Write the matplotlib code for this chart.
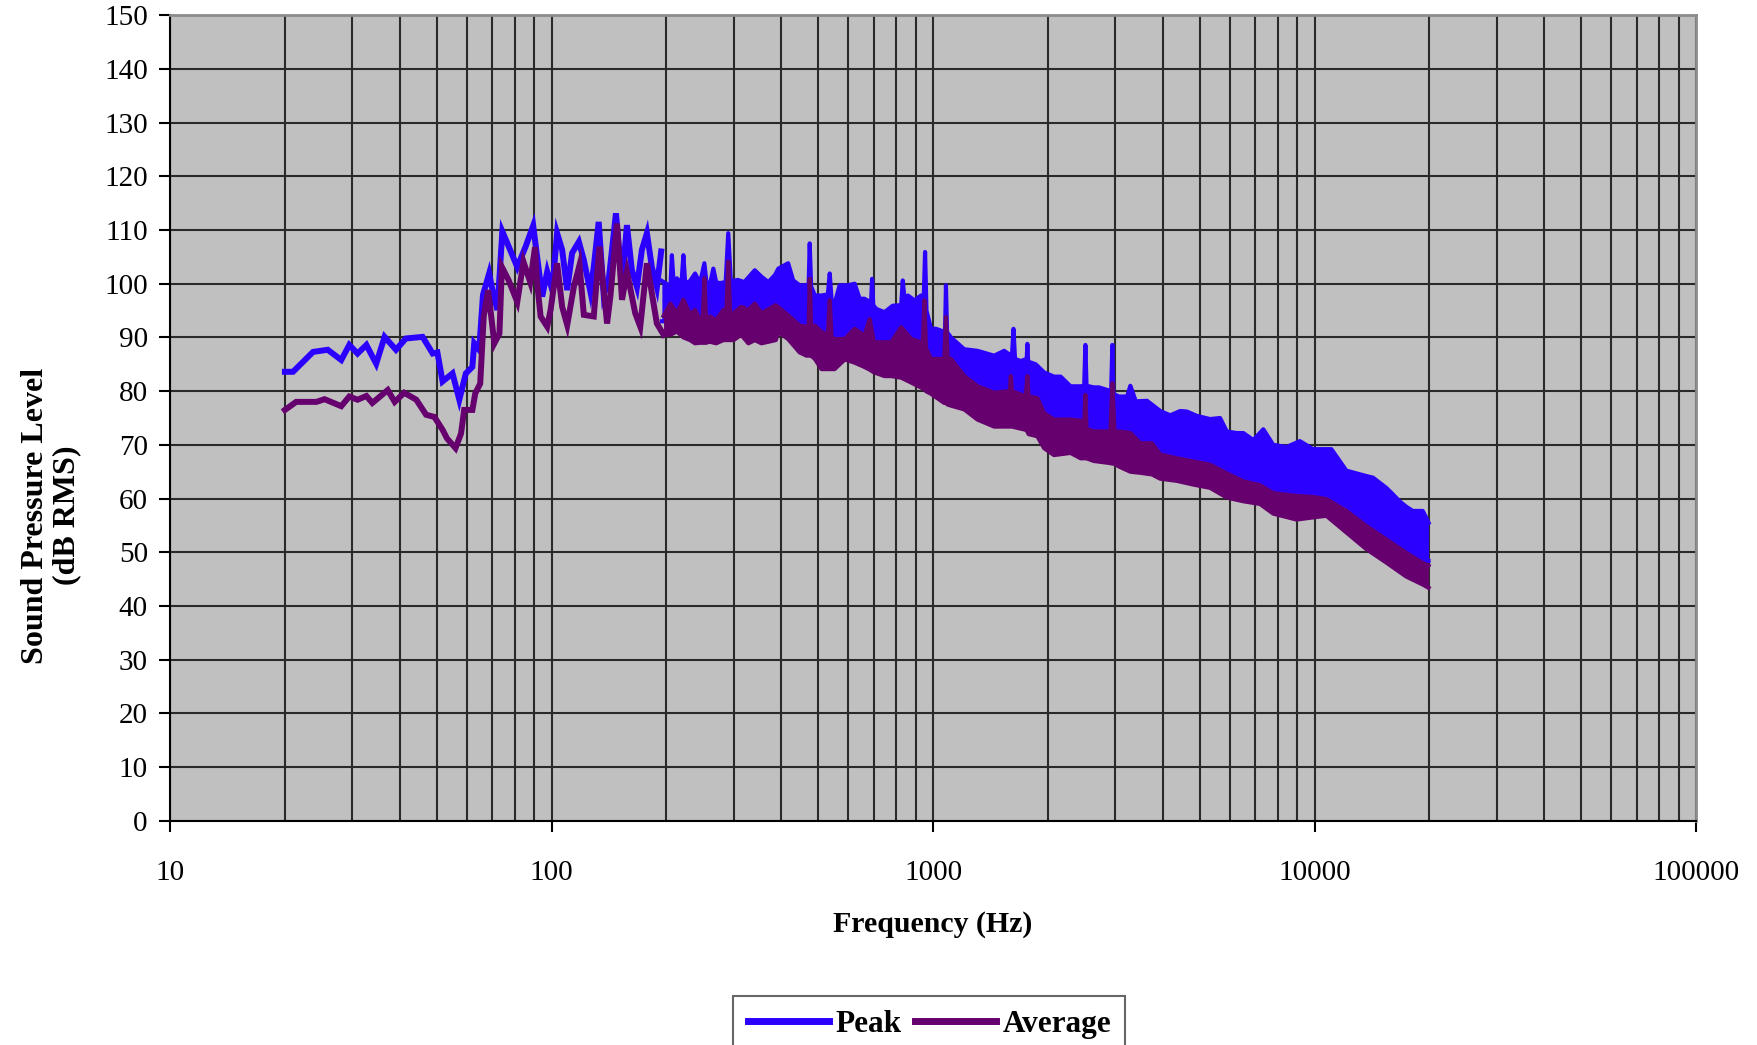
import numpy as np
import matplotlib
matplotlib.use('Agg')
import matplotlib.pyplot as plt
from matplotlib.ticker import FixedLocator, NullFormatter, LogLocator

plt.rcParams['font.family'] = ['Liberation Serif', 'DejaVu Serif']

# --- low frequency part, drawn as a plain line (Hz, dB) ---
peak_f_line = [20, 21, 23.7, 25.9, 28.1, 29.5, 31.0, 32.7, 34.7, 36.5,
               39.1, 41.5, 45.9, 48.8, 50.2, 51.8, 55.0, 57.3, 59.6, 62.0,
               62.7, 64.6, 66.1, 68.6, 70.0, 72.1, 74.3, 76.6, 81.3, 85.5,
               89.5, 94.5, 97.4, 100.4, 103.4, 106.6, 109.9, 113.2, 117.9, 121.5,
               126.4, 129, 132.9, 137, 141.2, 147.5, 153, 157.6, 162.4, 167.4,
               172.5, 177.8, 183.2, 188.8, 193.8]
peak_db_line = [83.6, 83.6, 87.3, 87.7, 85.8, 88.6, 87.0, 88.6, 85.1, 90.1,
                87.7, 89.8, 90.1, 87.0, 87.2, 81.8, 83.3, 78.4, 83.3, 84.5,
                88.9, 87.7, 97.9, 101.9, 98.8, 95.1, 109.7, 107.5, 103.1, 106.9,
                110.8, 97.6, 102.2, 98.8, 109.4, 106.3, 98.8, 105.7, 107.8, 104.4,
                98.5, 103.1, 111.5, 97.9, 100.7, 113.1, 100.1, 110.9, 102.5, 99.4,
                106.3, 109.4, 103.1, 99.4, 106.0]

avg_f_line = [20, 21.4, 24.2, 25.4, 28.1, 29.5, 31.0, 32.7, 33.9, 37.2,
              38.8, 41.1, 44.2, 46.9, 49.3, 51.8, 53.2, 56.0, 57.9, 59.0,
              62.0, 63.1, 65.0, 66.4, 68.2, 70.8, 73.0, 74.1, 77.1, 81.3,
              84.4, 87.9, 90.5, 91.5, 93.6, 97.4, 99.4, 103.4, 106.6, 109.9,
              114.4, 118.4, 121.5, 129, 133.5, 139.8, 142.6, 148.4, 153, 157.6,
              165.7, 170.8, 177.8, 188.8, 196.6]
avg_db_line = [76.5, 78.0, 78.0, 78.5, 77.2, 79.0, 78.4, 79.1, 77.8, 80.2,
               78.0, 79.7, 78.4, 75.6, 75.2, 72.8, 71.2, 69.4, 72.1, 76.5,
               76.5, 79.6, 81.4, 93.9, 98.8, 88.9, 90.7, 103.1, 100.7, 96.6,
               104.1, 100.3, 106.8, 100.7, 93.9, 92.0, 95.1, 103.8, 95.7, 92.3,
               99.4, 103.5, 94.2, 93.9, 106.9, 92.6, 97.6, 111.2, 97.0, 102.2,
               94.5, 92.0, 103.8, 92.6, 90.5]

# --- dense part, read as upper / lower envelope of the trace ---
peak_band_f = [194.6, 200, 205, 206.7, 209, 213, 219, 221.6, 224, 230.7,
               237.8, 245, 251.5, 255, 260, 265.5, 270, 276, 286, 290.5,
               295, 308, 320, 341, 355, 370, 385, 393, 417, 430,
               447, 466, 472, 475, 479, 490, 510, 530, 536, 542,
               552, 569, 598, 623, 642, 661, 688, 692, 697, 710,
               746, 784, 825, 833, 842, 859, 894, 930, 945, 953,
               961, 988, 1018, 1075, 1081, 1088, 1114, 1207, 1308, 1446,
               1536, 1610, 1625, 1640, 1697, 1760, 1767, 1775, 1858, 1954,
               2075, 2160, 2293, 2436, 2490, 2508, 2525, 2639, 2720, 2930,
               2951, 2970, 3067, 3225, 3290, 3400, 3638, 3941, 4185, 4446,
               4628, 4914, 5324, 5654, 5886, 6250, 6508, 6911, 7339, 7793,
               8445, 9151, 9916, 11071, 12118, 13668, 14229, 15416, 15887, 16702,
               17385, 18097, 19216, 19605, 19900]
peak_band_hi = [100.5, 100.0, 99.5, 105.3, 100, 101, 100, 105.3, 100, 100.5,
                101.9, 100.1, 103.8, 100, 99.8, 102.8, 100.3, 100.1, 100.3, 109.4,
                100.5, 100.7, 100.3, 102.5, 101.3, 100.3, 101.6, 102.8, 103.8, 100.6,
                99.7, 99.7, 100.0, 107.5, 99.5, 97.8, 97.8, 98, 101.9, 97,
                96.3, 99.7, 99.7, 100.0, 97.2, 97.2, 96.5, 100.9, 96, 95.3,
                94.7, 95.9, 96, 100.6, 97, 97.8, 96.9, 97.8, 97, 105.9,
                95, 91.6, 91.6, 91, 99.7, 91, 90.0, 87.8, 87.5, 86.6,
                87.5, 86.5, 91.6, 86, 85.6, 86, 88.8, 85.5, 85.0, 83.5,
                82.7, 82.7, 80.9, 80.9, 81, 88.6, 81, 80.7, 80.7, 80,
                88.6, 79.5, 79.0, 79.0, 81.0, 78.1, 78.2, 76.3, 75.5, 76.3,
                76.2, 75.4, 74.8, 75.0, 72.5, 72.2, 72.2, 70.9, 72.9, 70.0,
                69.6, 70.7, 69.2, 69.2, 65.2, 64.2, 63.9, 62, 61.1, 59.5,
                58.5, 57.7, 57.7, 56.5, 55.5]
peak_band_lo = [93, 93, 93, 93, 93, 93, 93, 93, 93, 93,
                93, 93, 93, 93, 93, 93, 93, 93, 93, 93,
                93, 93, 93, 93, 93, 93, 93, 93, 91, 90,
                89, 88.5, 88.5, 88.5, 88.5, 88, 88, 88, 88, 88,
                88, 88, 88, 88, 88, 88, 87.5, 87.5, 87.5, 87.5,
                87.5, 87.5, 87.5, 87.5, 87.5, 87.5, 87.5, 87, 87, 87,
                86.5, 85, 85, 84.5, 84.5, 84.5, 84, 81.5, 79.5, 78.5,
                78.5, 78, 78, 78, 78, 77.5, 77.5, 77.5, 76.5, 74.5,
                73.5, 73.3, 73.3, 73, 72.5, 72.5, 72.5, 71.5, 71.3, 71,
                71, 71, 71, 70.8, 70.8, 69.5, 68.8, 67.5, 67, 66.5,
                66.2, 65.8, 65.2, 64.8, 63.5, 63, 62.5, 62.2, 61.5, 60.5,
                60.2, 60, 59.8, 59.5, 58.6, 54.8, 53.7, 51.8, 51.2, 50.6,
                49.8, 49.2, 48.6, 48.4, 48.4]

avg_band_f = [196.6, 205, 213, 221.6, 230.7, 237.8, 245, 249, 251.5, 254,
              260, 270, 282, 287, 290.5, 294, 300, 314, 328, 341,
              355, 387, 393, 417, 447, 466, 472, 475, 479, 490,
              510, 530, 536, 542, 552, 587, 623, 661, 682, 700,
              746, 777, 825, 876, 940, 949, 958, 988, 1070, 1081,
              1092, 1114, 1207, 1308, 1446, 1590, 1599, 1610, 1750, 1767,
              1780, 1877, 1954, 2075, 2293, 2436, 2490, 2508, 2525, 2639,
              2917, 2951, 2990, 3067, 3290, 3494, 3748, 3941, 4358, 4817,
              5324, 5886, 6508, 7193, 7795, 8969, 9916, 10742, 12118, 13668,
              15416, 17385, 19216, 19900]
avg_band_hi = [94, 96.3, 94.5, 97.0, 94.2, 95.1, 93.2, 93.5, 101.0, 93.5,
               93.9, 93.2, 95.1, 94, 104.1, 94, 94.5, 95.7, 95.1, 96.3,
               94.5, 96.0, 95.6, 94.1, 92.2, 92, 92, 100.9, 92, 92.2,
               91, 90.5, 96.9, 90, 89.7, 89.7, 91.6, 90.3, 93.4, 89.1,
               89.1, 89.1, 91.9, 89.7, 89, 96.9, 88, 86, 86, 93.8,
               86, 86, 82.8, 80.9, 79.7, 80, 82.8, 80, 79, 82.8,
               79, 78.7, 75.9, 74.7, 74.7, 74.5, 74, 79.3, 73, 72.5,
               72.5, 81.5, 72.4, 72.5, 72.2, 70.3, 70.3, 68.2, 67.5, 66.9,
               66.3, 64.7, 63.2, 62.5, 61.0, 60.5, 60.3, 59.9, 57.7, 54.9,
               52.4, 49.9, 48, 47.5]
avg_band_lo = [90.5, 90.5, 91.1, 90, 89.5, 88.9, 89, 89, 89, 89,
               89.2, 88.9, 89.5, 89.5, 89.5, 89.5, 89.5, 90.5, 88.9, 89.5,
               88.9, 89.5, 91, 89.7, 87.2, 86.6, 86.6, 86.6, 86.6, 86,
               84.1, 84.1, 84.1, 84.1, 84.1, 85.9, 85.3, 84.5, 84, 83.5,
               82.8, 82.8, 82.5, 81.6, 80.5, 80.5, 80, 79.5, 77.8, 77.8,
               77.5, 77.3, 76.6, 74.7, 73.4, 73.4, 73.4, 73.4, 72.8, 72.5,
               72, 71.6, 69.4, 68.1, 68.5, 67.5, 67.5, 67.5, 67.5, 67,
               66.6, 66.5, 66.5, 66, 65.0, 64.8, 64.5, 63.7, 63.3, 62.6,
               62, 60.2, 59.5, 59, 57.2, 56.1, 56.5, 56.8, 53.7, 50.6,
               48.1, 45.5, 44, 43.4]

x_ticks = [10, 100, 1000, 10000, 100000]
x_tick_labels = ['10', '100', '1000', '10000', '100000']
y_ticks = list(range(0, 151, 10))

peak_color = '#2B00FF'
avg_color = '#66006E'
lw = 4.3


fig = plt.figure(figsize=(17.57, 10.45), dpi=100)
ax = fig.add_axes([0.0968, 0.2144, 0.8685, 0.7712])
ax.set_facecolor('#C0C0C0')

ax.set_xscale('log')
ax.set_xlim(10, 100000)
ax.set_ylim(0, 150)

# peak trace
ax.plot(peak_f_line, peak_db_line, color=peak_color, lw=lw,
        solid_joinstyle='miter', label='Peak', zorder=3)
ax.fill_between(peak_band_f, peak_band_lo, peak_band_hi, color=peak_color,
                lw=0, zorder=3)
ax.plot(peak_band_f, peak_band_hi, color=peak_color, lw=3, zorder=3)
ax.plot(peak_band_f, peak_band_lo, color=peak_color, lw=3, zorder=3)

# average trace on top
ax.plot(avg_f_line, avg_db_line, color=avg_color, lw=lw,
        solid_joinstyle='miter', label='Average', zorder=4)
ax.fill_between(avg_band_f, avg_band_lo, avg_band_hi, color=avg_color,
                lw=0, zorder=4)
ax.plot(avg_band_f, avg_band_hi, color=avg_color, lw=3, zorder=4)
ax.plot(avg_band_f, avg_band_lo, color=avg_color, lw=3, zorder=4)

# ticks and grid
ax.xaxis.set_major_locator(FixedLocator(x_ticks))
ax.set_xticklabels(x_tick_labels)
ax.xaxis.set_minor_locator(LogLocator(base=10, subs=np.arange(2, 10)))
ax.xaxis.set_minor_formatter(NullFormatter())
ax.set_yticks(y_ticks)

ax.grid(True, which='major', axis='both', color='#2a2a2a', lw=1.5, zorder=1)
ax.grid(True, which='minor', axis='x', color='#2a2a2a', lw=1.5, zorder=1)
ax.set_axisbelow(True)

ax.tick_params(axis='both', which='major', direction='out', length=8,
               width=1.5, color='black', labelsize=21)
ax.tick_params(axis='x', which='major', pad=20)
ax.tick_params(axis='y', which='major', pad=8)
ax.tick_params(axis='x', which='minor', length=0)

for side in ['left', 'bottom']:
    ax.spines[side].set_color('black')
    ax.spines[side].set_linewidth(1.5)
for side in ['top', 'right']:
    ax.spines[side].set_color('#8c8c8c')
    ax.spines[side].set_linewidth(2)

ax.set_xlabel('Frequency (Hz)', fontsize=21.5, fontweight='bold', labelpad=18)
ax.set_ylabel('Sound Pressure Level\n(dB RMS)', fontsize=23,
              fontweight='bold', linespacing=1.1)
ax.yaxis.set_label_coords(-0.058, 0.379)

leg = fig.legend(loc='upper center', bbox_to_anchor=(0.529, 0.062),
                 ncol=2, frameon=True, fancybox=False,
                 handlelength=2.6, handletextpad=0.2, columnspacing=0.45,
                 borderpad=0.45, prop={'weight': 'bold', 'size': 22.5})
leg.get_frame().set_edgecolor('#404040')
leg.get_frame().set_linewidth(1.5)
for h in leg.get_lines():
    h.set_linewidth(5)

fig.savefig('out.png', dpi=100)
